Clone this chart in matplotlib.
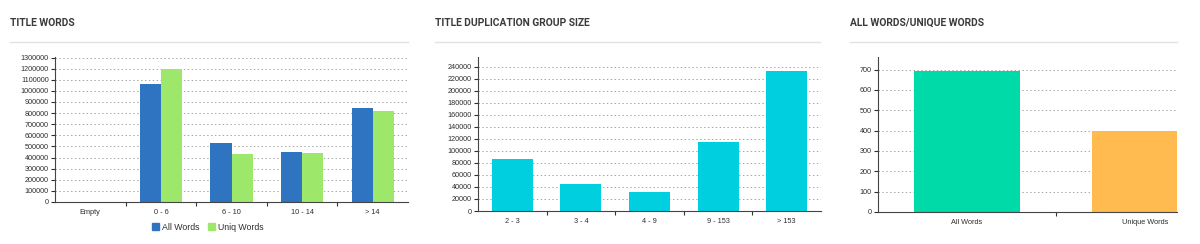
import matplotlib
matplotlib.use("Agg")
import numpy as np
import matplotlib.pyplot as plt
from matplotlib.patches import Patch
from matplotlib.lines import Line2D

# data
word_cats = ["Empty", "0 - 6", "6 - 10", "10 - 14", "> 14"]
all_words = [0, 1060000, 530000, 450000, 850000]
uniq_words = [0, 1195000, 435000, 445000, 820000]

dup_cats = ["2 - 3", "3 - 4", "4 - 9", "9 - 153", "> 153"]
dup_counts = [86000, 45500, 32000, 115500, 233000]

ratio_cats = ["All Words", "Unique Words"]
ratio_vals = [692, 400]

W, H = 1200, 244
plt.rcParams['font.family'] = ['Liberation Sans', 'DejaVu Sans']
fig = plt.figure(figsize=(W / 100, H / 100), dpi=100)
fig.patch.set_facecolor("white")

TXT = "#2e2e2e"


def px_axes(left, top, right, bottom):
    return fig.add_axes([left / W, 1 - bottom / H, (right - left) / W, (bottom - top) / H])


def header(x0, x1, title):
    fig.text(x0 / W, 1 - 23 / H, title, fontsize=7.4, fontweight="bold",
             family=["Roboto", "DejaVu Sans"], color="#3a3a3a", va="center")
    fig.add_artist(Line2D([x0 / W, x1 / W], [1 - 42 / H, 1 - 42 / H],
                          color="#e2e2e2", lw=1.0))


def style(ax, ncat, ymax, yticks):
    ax.set_ylim(0, ymax)
    ax.set_yticks(yticks)
    ax.set_yticklabels([str(v) for v in yticks])
    ax.set_xticks(np.arange(ncat))
    ax.set_xticks(np.arange(ncat - 1) + 0.5, minor=True)
    ax.tick_params(axis="x", which="major", length=0, labelsize=5.3, colors=TXT, pad=5)
    ax.tick_params(axis="x", which="minor", length=3, width=0.8, color="#333333")
    ax.tick_params(axis="y", length=3, width=0.8, labelsize=5.2, colors=TXT, pad=1.5)
    for s in ["top", "right"]:
        ax.spines[s].set_visible(False)
    for s in ["left", "bottom"]:
        ax.spines[s].set_color("#444444")
        ax.spines[s].set_linewidth(0.8)
    ax.yaxis.grid(True, linestyle=(0, (1.5, 2.5)), color="#a5a5a5", lw=0.7)
    ax.set_axisbelow(True)


# panel 1: title words
header(10, 408, "TITLE WORDS")
ax1 = px_axes(55, 57, 408, 202)
x = np.arange(len(word_cats))
ax1.bar(x - 0.15, all_words, 0.3, color="#2e74c0")
ax1.bar(x + 0.15, uniq_words, 0.3, color="#9de86a")
ax1.set_xlim(-0.5, len(word_cats) - 0.5)
style(ax1, len(word_cats), 1305000, list(range(0, 1300001, 100000)))
ax1.set_xticklabels(word_cats)
fig.legend(handles=[Patch(color="#2e74c0", label="All Words"),
                    Patch(color="#9de86a", label="Uniq Words")],
           loc="center", bbox_to_anchor=(208 / W, 1 - 227 / H), ncol=2,
           frameon=False, fontsize=6.3, handlelength=0.8, handleheight=0.8,
           handletextpad=0.4, columnspacing=0.9, labelcolor=TXT)

# panel 2: title duplication group size
header(435, 820, "TITLE DUPLICATION GROUP SIZE")
ax2 = px_axes(478, 57, 821, 211)
x = np.arange(len(dup_cats))
ax2.bar(x, dup_counts, 0.6, color="#00cfe0")
ax2.set_xlim(-0.5, len(dup_cats) - 0.5)
style(ax2, len(dup_cats), 256500, list(range(0, 240001, 20000)))
ax2.set_xticklabels(dup_cats)

# panel 3: all words / unique words
header(850, 1177, "ALL WORDS/UNIQUE WORDS")
ax3 = px_axes(878, 57, 1177, 212)
x = np.arange(len(ratio_cats))
ax3.bar(x, ratio_vals, 0.6, color=["#00d9a8", "#ffbb4f"])
ax3.set_xlim(-0.5, 1.18)
style(ax3, len(ratio_cats), 762, list(range(0, 701, 100)))
ax3.set_xticklabels(ratio_cats)

fig.savefig("out.png", dpi=100, facecolor="white")
